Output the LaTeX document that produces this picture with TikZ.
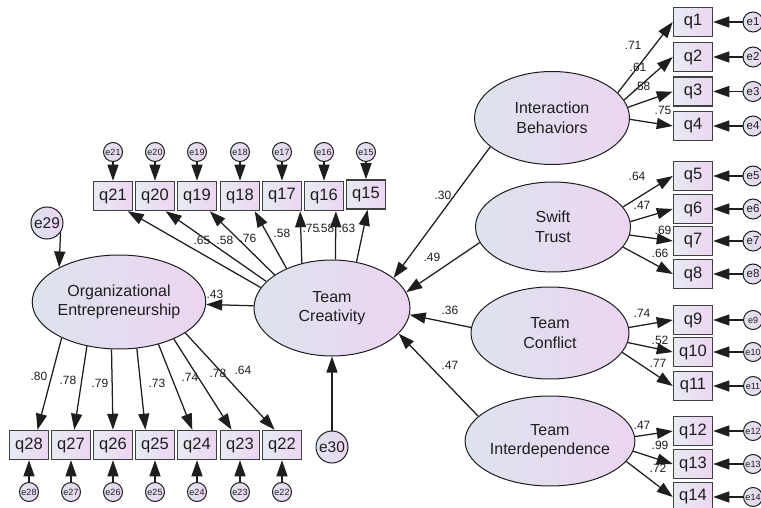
\documentclass[tikz,border=0pt]{standalone}
\usepackage{fontspec}
\setmainfont{Liberation Sans}
\usetikzlibrary{arrows.meta,shapes.geometric}
\definecolor{lb}{RGB}{221,227,237}
\definecolor{lp}{RGB}{236,213,242}
\definecolor{ink}{RGB}{30,30,30}
\begin{document}
\begin{tikzpicture}[x=1pt,y=-1pt,
 lat/.style={ellipse,draw=ink,line width=1pt,left color=lb,right color=lp,inner sep=0pt,align=center,text=ink,font=\fontsize{16}{19.5}\selectfont},
 obs/.style={rectangle,draw=black!75,line width=1.5pt,left color=lb!70!white,right color=lp,minimum width=39pt,minimum height=29pt,inner sep=0pt,text=ink,font=\fontsize{16.5}{18}\selectfont},
 err/.style={circle,draw=ink,line width=1pt,left color=lb,right color=lp,minimum size=19pt,inner sep=0pt,text=ink,font=\fontsize{9}{9}\selectfont},
 rerr/.style={err,minimum size=20pt,font=\fontsize{11.5}{12}\selectfont},
 bigerr/.style={circle,draw=ink,line width=1pt,left color=lb,right color=lp,minimum size=32pt,inner sep=0pt,text=ink,font=\fontsize{15.5}{16}\selectfont},
 arr/.style={-{Triangle[length=16pt,width=11pt]},line width=1.25pt,draw=ink,fill=ink},
 lab/.style={font=\fontsize{12}{12}\selectfont,inner sep=0pt,text=ink}
]
\clip (0,0) rectangle (761,508);
\fill[white] (0,0) rectangle (761,508);

% latent variables
\node[lat,minimum width=156pt,minimum height=96pt] (TC) at (332,308) {Team\\Creativity};
\node[lat,minimum width=154pt,minimum height=94pt] (OE) at (119,302) {Organizational\\Entrepreneurship};
\node[lat,minimum width=155pt,minimum height=93pt] (IB) at (552,118) {Interaction\\Behaviors};
\node[lat,minimum width=155pt,minimum height=90pt] (ST) at (553,227) {Swift\\Trust};
\node[lat,minimum width=158pt,minimum height=92pt] (TF) at (550,333) {Team\\Conflict};
\node[lat,minimum width=158pt,minimum height=90pt] (TI) at (550,441) {Team\\Interdependence};

\node[bigerr] (e29) at (47,223) {e29};
\node[bigerr] (e30) at (332,447) {e30};

% right observed
\foreach \i/\y in {1/22,2/57,3/91.5,4/126,5/176,6/209,7/241,8/274}{
  \node[obs] (q\i) at (693,\y) {q\i};
  \node[rerr] (e\i) at (753,\y) {e\i};
  \draw[arr] (e\i) -- (q\i);
}
\foreach \i/\y in {9/320,10/352,11/386,12/431,13/464,14/497}{
  \node[obs] (q\i) at (693,\y) {q\i};
  \node[err] (e\i) at (753,\y) {e\i};
  \draw[arr] (e\i) -- (q\i);
}
% top observed
\foreach \i/\x/\y in {21/113/196,20/155/196,19/197/196,18/240/196,17/282/196,16/324/196,15/366/194.5}{
  \node[obs] (q\i) at (\x,\y) {q\i};
  \node[err] (e\i) at (\x,152) {e\i};
  \draw[arr] (e\i) -- (q\i);
}
% bottom observed
\foreach \i/\x in {28/29,27/71,26/113,25/155,24/197,23/240,22/282}{
  \node[obs] (q\i) at (\x,445) {q\i};
  \node[err] (e\i) at (\x,492) {e\i};
  \draw[arr] (e\i) -- (q\i);
}

% structural paths
\draw[arr] (e29.-35) -- (OE.150);
\draw[arr] (e30) -- (TC);
\draw[arr] (TC) -- (OE);
\draw[arr] (IB.205) -- (TC.26);
\draw[arr] (ST.192) -- (TC.12);
\draw[arr] (TF.176) -- (TC.-5);
\draw[arr] (TI.161) -- (TC.-21);

% TC -> top indicators
\draw[arr] (TC.164) -- (q21.-46);
\draw[arr] (TC.158) -- (q20.-55);
\draw[arr] (TC.150) -- (q19.-50);
\draw[arr] (TC.139) -- (q18.-46);
\draw[arr] (TC.124) -- (q17.-40);
\draw[arr] (TC.86) -- (q16.-52);
\draw[arr] (TC.62) -- (q15.-84);

% OE -> bottom indicators
\draw[arr] (OE.212) -- (q28.61);
\draw[arr] (OE.234) -- (q27.78);
\draw[arr] (OE.261) -- (q26.90);
\draw[arr] (OE.291) -- (q25.122);
\draw[arr] (OE.313) -- (q24.107);
\draw[arr] (OE.326) -- (q23.119);
\draw[arr] (OE.335) -- (q22.116);

% right factors -> indicators
\draw[arr] (IB.21) -- (q1.west);
\draw[arr] (IB.14) -- (q2.west);
\draw[arr] (IB.8) -- (q3.west);
\draw[arr] (IB.-1) -- (q4.west);
\draw[arr] (ST.16) -- (q5.west);
\draw[arr] (ST.4) -- (q6.west);
\draw[arr] (ST.-6) -- (q7.west);
\draw[arr] (ST.-16) -- (q8.west);
\draw[arr] (TF.4) -- (q9.west);
\draw[arr] (TF.-7) -- (q10.west);
\draw[arr] (TF.-15) -- (q11.west);
\draw[arr] (TI.3) -- (q12.west);
\draw[arr] (TI.-7) -- (q13.west);
\draw[arr] (TI.-15) -- (q14.west);

% labels
\node[lab] (l43) at (215,294) {.43};
\node[lab] (l30) at (443,195) {.30};
\node[lab] (l49) at (432,257) {.49};
\node[lab] (l36) at (450,310) {.36};
\node[lab] (l47) at (450,365) {.47};

\node[lab] (t21) at (202,240) {.65};
\node[lab] (t20) at (225,240) {.58};
\node[lab] (t19) at (248,238) {.76};
\node[lab] (t18) at (282,233) {.58};
\node[lab] (t17) at (311,228) {.75};
\node[lab] (t16) at (326,228) {.58};
\node[lab] (t15) at (347,228) {.63};

\node[lab] (b28) at (39,376) {.80};
\node[lab] (b27) at (68,380) {.78};
\node[lab] (b26) at (100,383) {.79};
\node[lab] (b25) at (157,383) {.73};
\node[lab] (b24) at (190,377) {.74};
\node[lab] (b23) at (218,373) {.78};
\node[lab] (b22) at (243,370) {.64};

\node[lab] (r1) at (633,45) {.71};
\node[lab] (r2) at (638,67) {.61};
\node[lab] (r3) at (642,86) {.58};
\node[lab] (r4) at (663,110) {.75};
\node[lab] (r5) at (637,176) {.64};
\node[lab] (r6) at (642,205) {.47};
\node[lab] (r7) at (663,230) {.69};
\node[lab] (r8) at (660,253) {.66};
\node[lab] (r9) at (642,313) {.74};
\node[lab] (r10) at (660,340) {.52};
\node[lab] (r11) at (658,363) {.77};
\node[lab] (r12) at (642,425) {.47};
\node[lab] (r13) at (660,445) {.99};
\node[lab] (r14) at (658,468) {.72};
\end{tikzpicture}
\end{document}
